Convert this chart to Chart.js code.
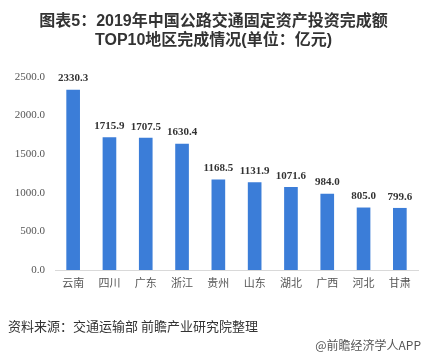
<!DOCTYPE html>
<html><head><meta charset="utf-8">
<script src="https://cdn.jsdelivr.net/npm/chart.js@4/dist/chart.umd.min.js"></script>
<style>
html,body{margin:0;padding:0;background:#fff;}
#wrap{position:relative;width:427px;height:357px;overflow:hidden;}
#title{position:absolute;left:0;top:11px;width:427px;text-align:center;font-family:"Liberation Sans","Noto Sans CJK SC",sans-serif;font-weight:bold;font-size:16px;line-height:19px;color:#333;}
#src{position:absolute;left:8px;top:316px;font-family:"Noto Sans CJK SC",sans-serif;font-size:13px;color:#333;}
#credit{position:absolute;right:6px;top:336px;font-family:"Noto Sans CJK SC",sans-serif;font-size:12px;color:#555;}
canvas{position:absolute;left:0;top:0;}
</style></head>
<body><div id="wrap">
<canvas id="c" width="427" height="357"></canvas>
<div id="title">图表5：2019年中国公路交通固定资产投资完成额<br>TOP10地区完成情况(单位：亿元)</div>
<div id="src">资料来源：交通运输部 前瞻产业研究院整理</div>
<div id="credit">@前瞻经济学人APP</div>
</div>
<script>
const categories = ["云南","四川","广东","浙江","贵州","山东","湖北","广西","河北","甘肃"];
const values = [2330.3,1715.9,1707.5,1630.4,1168.5,1131.9,1071.6,984.0,805.0,799.6];
const yTicks = [0,500,1000,1500,2000,2500];

const valueLabels = {
  id:'valueLabels',
  afterDatasetsDraw(chart){
    const ctx=chart.ctx;
    const meta=chart.getDatasetMeta(0);
    ctx.save();
    ctx.font='bold 11px "Liberation Serif", serif';
    ctx.fillStyle='#333';
    ctx.textAlign='center';
    ctx.textBaseline='bottom';
    meta.data.forEach((bar,i)=>{
      ctx.fillText(values[i].toFixed(1), bar.x, bar.y-6);
    });
    ctx.restore();
  }
};

new Chart(document.getElementById('c'),{
  type:'bar',
  data:{labels:categories,datasets:[{data:values,backgroundColor:'#3b7dd8',barThickness:13}]},
  options:{
    responsive:false,animation:false,
    layout:{padding:{top:77,right:9,bottom:57,left:0}},
    plugins:{legend:{display:false},tooltip:{enabled:false},title:{display:false}},
    scales:{
      x:{
        grid:{display:false,drawTicks:false},
        border:{display:true,color:'#d9d9d9'},
        ticks:{color:'#555',font:{family:'"Liberation Serif","Noto Sans CJK SC",serif',size:11},padding:8},
        afterFit(s){s.height=30;}
      },
      y:{
        min:0,max:2500,
        grid:{display:false,drawTicks:false},
        border:{display:false},
        afterBuildTicks(s){s.ticks=yTicks.map(v=>({value:v}));},
        ticks:{color:'#555',font:{family:'"Liberation Serif",serif',size:11},padding:10,callback:v=>Number(v).toFixed(1)},
        afterFit(s){s.width=55;}
      }
    }
  },
  plugins:[valueLabels]
});
</script>
</body></html>
